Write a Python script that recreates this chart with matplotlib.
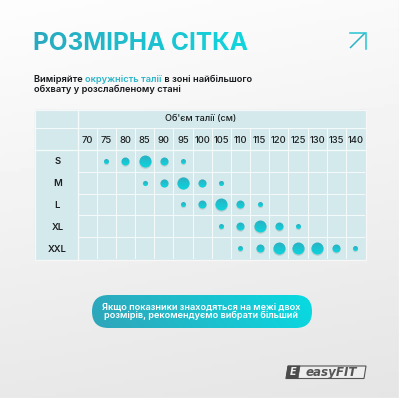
import numpy as np
import matplotlib
matplotlib.use("Agg")
import matplotlib.pyplot as plt
from matplotlib.patches import FancyBboxPatch, Polygon
from matplotlib.colors import to_rgb

FONT = "Inter"
plt.rcParams["font.family"] = [FONT, "DejaVu Sans"]

waist = [70, 75, 80, 85, 90, 95, 100, 105, 110, 115, 120, 125, 130, 135, 140]
sizes = ["S", "M", "L", "XL", "XXL"]
# bubble grade per size, per waist value (0 = none, 1 small, 2 medium, 3 large)
grade_S   = [0, 1, 2, 3, 2, 1, 0, 0, 0, 0, 0, 0, 0, 0, 0]
grade_M   = [0, 0, 0, 1, 2, 3, 2, 1, 0, 0, 0, 0, 0, 0, 0]
grade_L   = [0, 0, 0, 0, 0, 1, 2, 3, 2, 1, 0, 0, 0, 0, 0]
grade_XL  = [0, 0, 0, 0, 0, 0, 0, 1, 2, 3, 2, 1, 0, 0, 0]
grade_XXL = [0, 0, 0, 0, 0, 0, 0, 0, 1, 2, 3, 3, 3, 2, 1]
grades = [grade_S, grade_M, grade_L, grade_XL, grade_XXL]
title = "РОЗМІРНА СІТКА"
axis_title = "Об'єм талії (см)"
intro_parts = ["Виміряйте ", "окружність талії", " в зоні найбільшого"]
intro_line2 = "обхвату у розслабленому стані"
note = "Якщо показники знаходяться на межі двох\nрозмірів, рекомендуємо вибрати більший"
brand = "easyFIT"

diam_px = {1: 5.0, 2: 8.0, 3: 12.0}
C1, C2 = "#2ba9bd", "#0fd6de"


def h_gradient(c1, c2):
    a, b = np.array(to_rgb(c1)), np.array(to_rgb(c2))
    def f(img, dpi):
        h, w = img.shape[:2]
        t = np.linspace(0, 1, w)[None, :, None]
        out = img.copy()
        out[..., :3] = a * (1 - t) + b * t
        return out, 0, 0
    return f


def v_gradient(c1, c2):
    a, b = np.array(to_rgb(c1)), np.array(to_rgb(c2))
    def f(img, dpi):
        h, w = img.shape[:2]
        t = np.linspace(0, 1, h)[:, None, None]
        out = img.copy()
        out[..., :3] = a * (1 - t) + b * t
        return out, 0, 0
    return f


fig = plt.figure(figsize=(4, 4), dpi=100)
bg = fig.add_axes([0, 0, 1, 1])
bg.set_xlim(0, 400)
bg.set_ylim(400, 0)
bg.axis("off")

# page background
yy, xx = np.mgrid[0:1:100j, 0:1:100j]
shade = 0.992 - 0.095 * (0.85 * yy + 0.15 * xx)
bg.imshow(shade, extent=[0, 400, 400, 0], cmap="gray", vmin=0, vmax=1, aspect="auto", zorder=0)
bg.plot([0, 398.5, 398.5], [397.5, 397.5, 0], color="#d2d2d2", lw=0.8, zorder=1)
bg.fill_between([0, 400], 398, 400, color="#ffffff", zorder=1)
bg.fill_betweenx([0, 400], 399, 400, color="#ffffff", zorder=1)

# title
t = bg.text(33, 50, title, fontsize=17.6, fontweight="bold", color=C1, ha="left", va="baseline", zorder=3)
t.set_agg_filter(h_gradient("#2aa9bf", "#10d6de"))

# arrow icon
bg.plot([350, 365], [48, 33], color="#2bb2c4", lw=1.1, zorder=3, solid_capstyle="butt")
bg.plot([350, 365.5, 365.5], [33, 33, 48.5], color="#25c4d2", lw=1.1, zorder=3, solid_joinstyle="miter")

# intro text
renderer = fig.canvas.get_renderer()
x = 34
for part, col in zip(intro_parts, ["#16191c", "#2cb5c9", "#16191c"]):
    tx = bg.text(x, 82.5, part.replace(" ", "\u00a0"), fontsize=6.7, fontweight="semibold", color=col,
                 ha="left", va="baseline", zorder=3)
    x += tx.get_window_extent(renderer).width
bg.text(34, 91.5, intro_line2, fontsize=6.7, fontweight="semibold", color="#16191c",
        ha="left", va="baseline", zorder=3)

# table
TL, TR, TT, TB = 35, 365, 110, 259
GL, GT1, GT2 = 77.5, 128, 150
bg.fill_between([TL, TR], TT, TB, color="#d4e9ec", zorder=1.5)
bg.plot([TL - .5, TR + .5, TR + .5, TL - .5, TL - .5], [TT - .5, TT - .5, TB + .5, TB + .5, TT - .5],
        color="#f7f7f7", lw=0.9, zorder=2)

ax = fig.add_axes([GL / 400, 1 - TB / 400, (TR - GL) / 400, (TB - GT2) / 400])
ax.patch.set_alpha(0)
ax.set_xlim(-0.5, len(waist) - 0.5)
ax.set_ylim(len(sizes) - 0.5, -0.5)
for s in ax.spines.values():
    s.set_visible(False)
ax.set_xticks(range(len(waist)))
ax.set_xticklabels([str(w) for w in waist], fontsize=6.8, fontweight="medium", color="#1d2022")
ax.set_yticks(range(len(sizes)))
ax.set_yticklabels(sizes, fontsize=6.8, fontweight="semibold", color="#1d2022")
ax.xaxis.tick_top()
ax.tick_params(length=0, pad=0)
ax.tick_params(axis="x", pad=3.4)
for lab in ax.get_yticklabels():
    lab.set_ha("center")
    lab.set_x(-0.07)

ax.set_xticks(np.arange(0.5, len(waist) - 0.5), minor=True)
ax.set_yticks(np.arange(0.5, len(sizes) - 0.5), minor=True)
ax.tick_params(which="minor", length=0)
ax.grid(which="minor", color="#f4fafa", lw=0.8)
ax.set_axisbelow(True)

for r, row in enumerate(grades):
    for c, g in enumerate(row):
        if g == 0:
            continue
        area = (diam_px[g] * 0.72) ** 2
        ax.scatter([c], [r + 0.035], s=area * 1.12, color="#8a9da0", alpha=0.35, linewidths=0, zorder=3)
        p = ax.scatter([c], [r], s=area, color=C2, linewidths=0, zorder=4)
        p.set_agg_filter(v_gradient("#2bb1c3", "#0bd5dd"))

# header grid lines on the page
bg.plot([TL, TR], [GT1, GT1], color="#f4fafa", lw=0.8, zorder=2)
bg.plot([TL, TR], [GT2, GT2], color="#f4fafa", lw=0.9, zorder=2)
bg.plot([GL, GL], [TT, TB], color="#f4fafa", lw=0.9, zorder=2)
col_w = (TR - GL) / len(waist)
for i in range(1, len(waist)):
    bg.plot([GL + i * col_w] * 2, [GT1, GT2], color="#f4fafa", lw=0.8, zorder=2)
bg.text(200.7, 119, axis_title, fontsize=6.6, fontweight="medium", color="#1d2022", ha="center", va="center", zorder=3)

# note pill
PL, PR, PT, PB = 92, 312, 295, 328
pill = FancyBboxPatch((PL + 16, PT + 16), PR - PL - 32, PB - PT - 32,
                      boxstyle="round,pad=16,rounding_size=16.5", transform=bg.transData,
                      facecolor="none", edgecolor="none", mutation_aspect=1)
bg.add_patch(pill)
grad = np.linspace(0, 1, 220)[None, :] + np.linspace(0.05, -0.05, 33)[:, None]
im = bg.imshow(grad, extent=[PL, PR, PB, PT], aspect="auto", zorder=2,
               cmap=matplotlib.colors.LinearSegmentedColormap.from_list("p", ["#2ea7bb", "#0ad8e0"]),
               vmin=0, vmax=1)
im.set_clip_path(pill)
bg.set_xlim(0, 400)
bg.set_ylim(400, 0)
bg.text(201.3, 311.3, note, fontsize=6.6, fontweight="semibold", color="#ffffff", ha="center", va="center",
        linespacing=1.0, zorder=3)

# logo
bg.add_patch(Polygon([[288, 366], [366, 366], [364, 378.5], [286, 378.5]], closed=True, facecolor="#eeeeee",
                     edgecolor="#555555", lw=0.8, zorder=3))
bg.add_patch(Polygon([[288, 366], [300, 366], [298, 378.5], [286, 378.5]], closed=True, facecolor="#4b4b4b",
                     edgecolor="#4b4b4b", lw=0.5, zorder=3))
bg.text(293, 372.4, "E", fontsize=7, family="DejaVu Sans", fontweight="bold", style="oblique", color="#eeeeee",
        ha="center", va="center", zorder=4)
bg.text(331.5, 372.2, brand, fontsize=8.6, family="DejaVu Sans", fontweight="bold", style="oblique",
        color="#555555", ha="center", va="center", zorder=4)

fig.savefig("out.png", dpi=100)
